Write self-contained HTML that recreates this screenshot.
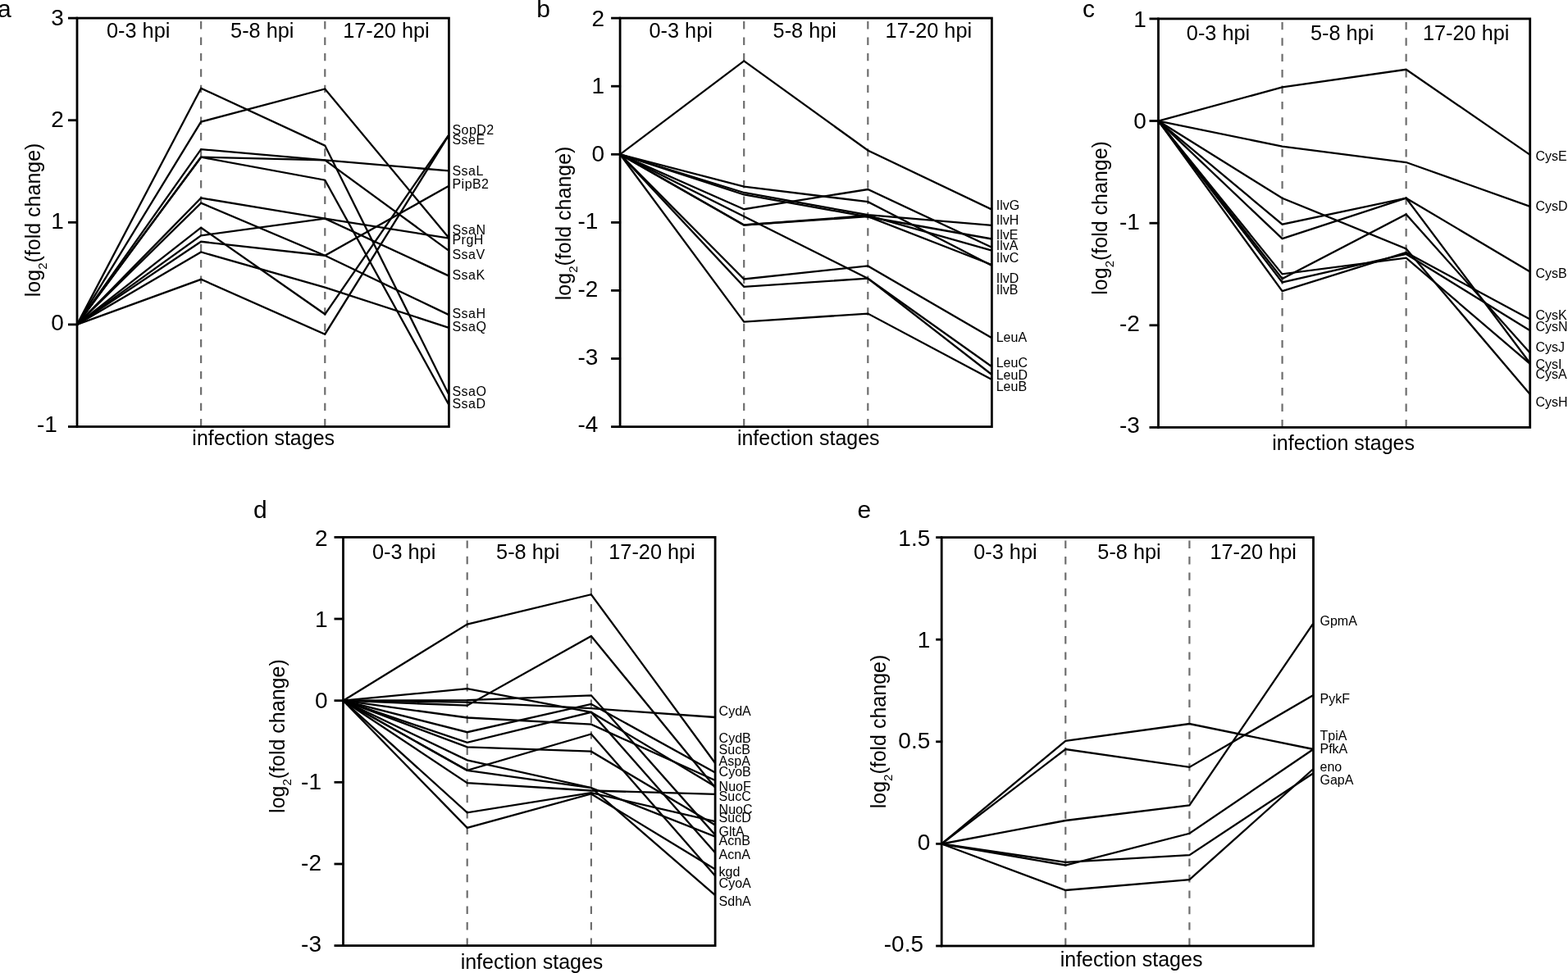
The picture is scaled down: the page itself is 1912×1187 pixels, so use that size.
<!DOCTYPE html>
<html><head><meta charset="utf-8"><title>log2 fold change across infection stages</title>
<style>html,body{margin:0;padding:0;background:#fff;}body{width:1912px;height:1187px;overflow:hidden;}svg{display:block;}text{font-family:"Liberation Sans", Arial, Helvetica, sans-serif;fill:#000;}</style></head><body>
<svg width="1912" height="1187" viewBox="0 0 1912 1187">
<rect x="0" y="0" width="1912" height="1187" fill="#fff"/>
<g id="panel-a">
<text x="-3" y="21" font-size="30">a</text>
<line x1="245.13" y1="26.1" x2="245.13" y2="519.5" stroke="#6e6e6e" stroke-width="2.2" stroke-dasharray="9.4 10"/>
<line x1="396.27" y1="26.1" x2="396.27" y2="519.5" stroke="#6e6e6e" stroke-width="2.2" stroke-dasharray="9.4 10"/>
<text x="168.67" y="46.3" font-size="25.3" text-anchor="middle">0-3 hpi</text>
<text x="319.8" y="46.3" font-size="25.3" text-anchor="middle">5-8 hpi</text>
<text x="470.93" y="46.3" font-size="25.3" text-anchor="middle">17-20 hpi</text>
<polyline points="94,395.9 245.13,107.7 396.27,177.6 547.4,481.5" fill="none" stroke="#000" stroke-width="2.3" stroke-linejoin="miter" stroke-miterlimit="4"/>
<polyline points="94,395.9 245.13,148.6 396.27,108.5 547.4,290.3" fill="none" stroke="#000" stroke-width="2.3" stroke-linejoin="miter" stroke-miterlimit="4"/>
<polyline points="94,395.9 245.13,182.1 396.27,195.3 547.4,305.9" fill="none" stroke="#000" stroke-width="2.3" stroke-linejoin="miter" stroke-miterlimit="4"/>
<polyline points="94,395.9 245.13,191.7 396.27,195.3 547.4,208.4" fill="none" stroke="#000" stroke-width="2.3" stroke-linejoin="miter" stroke-miterlimit="4"/>
<polyline points="94,395.9 245.13,191.7 396.27,219.7 547.4,494" fill="none" stroke="#000" stroke-width="2.3" stroke-linejoin="miter" stroke-miterlimit="4"/>
<polyline points="94,395.9 245.13,241.5 396.27,266.7 547.4,290.6" fill="none" stroke="#000" stroke-width="2.3" stroke-linejoin="miter" stroke-miterlimit="4"/>
<polyline points="94,395.9 245.13,287.3 396.27,266.7 547.4,336.6" fill="none" stroke="#000" stroke-width="2.3" stroke-linejoin="miter" stroke-miterlimit="4"/>
<polyline points="94,395.9 245.13,247.7 396.27,311.7 547.4,384.1" fill="none" stroke="#000" stroke-width="2.3" stroke-linejoin="miter" stroke-miterlimit="4"/>
<polyline points="94,395.9 245.13,294.8 396.27,311.7 547.4,226.8" fill="none" stroke="#000" stroke-width="2.3" stroke-linejoin="miter" stroke-miterlimit="4"/>
<polyline points="94,395.9 245.13,307.5 396.27,350.6 547.4,399.8" fill="none" stroke="#000" stroke-width="2.3" stroke-linejoin="miter" stroke-miterlimit="4"/>
<polyline points="94,395.9 245.13,277.7 396.27,383.3 547.4,164.3" fill="none" stroke="#000" stroke-width="2.3" stroke-linejoin="miter" stroke-miterlimit="4"/>
<polyline points="94,395.9 245.13,340.8 396.27,407.7 547.4,164.6" fill="none" stroke="#000" stroke-width="2.3" stroke-linejoin="miter" stroke-miterlimit="4"/>
<rect x="94" y="22.1" width="453.4" height="498.4" fill="none" stroke="#000" stroke-width="2.8"/>
<line x1="83" y1="22.1" x2="95" y2="22.1" stroke="#000" stroke-width="2.8"/>
<text x="77.9" y="31.3" font-size="28" text-anchor="end">3</text>
<line x1="83" y1="146.7" x2="95" y2="146.7" stroke="#000" stroke-width="2.8"/>
<text x="77.9" y="155.1" font-size="28" text-anchor="end">2</text>
<line x1="83" y1="271.3" x2="95" y2="271.3" stroke="#000" stroke-width="2.8"/>
<text x="77.9" y="278.9" font-size="28" text-anchor="end">1</text>
<line x1="83" y1="395.9" x2="95" y2="395.9" stroke="#000" stroke-width="2.8"/>
<text x="77.9" y="402.7" font-size="28" text-anchor="end">0</text>
<line x1="83" y1="520.5" x2="95" y2="520.5" stroke="#000" stroke-width="2.8"/>
<text x="69.9" y="526.5" font-size="28" text-anchor="end">-1</text>
<text x="321.2" y="543" font-size="25" text-anchor="middle">infection stages</text>
<text transform="translate(48.6 268.4) rotate(-90)" x="0" y="0" font-size="25" text-anchor="middle">log<tspan font-size="15" dy="8">2</tspan><tspan dy="-8">(fold change)</tspan></text>
<text x="551.5" y="163.7" font-size="16" letter-spacing="0.45">SopD2</text>
<text x="551.5" y="175.5" font-size="16" letter-spacing="0.45">SseE</text>
<text x="551.5" y="214.3" font-size="16" letter-spacing="0.45">SsaL</text>
<text x="551.5" y="230.3" font-size="16" letter-spacing="0.45">PipB2</text>
<text x="551.5" y="286" font-size="16" letter-spacing="0.45">SsaN</text>
<text x="551.5" y="298.2" font-size="16" letter-spacing="0.45">PrgH</text>
<text x="551.5" y="316.3" font-size="16" letter-spacing="0.45">SsaV</text>
<text x="551.5" y="341.2" font-size="16" letter-spacing="0.45">SsaK</text>
<text x="551.5" y="388.1" font-size="16" letter-spacing="0.45">SsaH</text>
<text x="551.5" y="403.9" font-size="16" letter-spacing="0.45">SsaQ</text>
<text x="551.5" y="483.1" font-size="16" letter-spacing="0.45">SsaO</text>
<text x="551.5" y="497.7" font-size="16" letter-spacing="0.45">SsaD</text>
</g>
<g id="panel-b">
<text x="654.3" y="21" font-size="30">b</text>
<line x1="907.2" y1="26.1" x2="907.2" y2="519.6" stroke="#6e6e6e" stroke-width="2.2" stroke-dasharray="9.4 10"/>
<line x1="1058.3" y1="26.1" x2="1058.3" y2="519.6" stroke="#6e6e6e" stroke-width="2.2" stroke-dasharray="9.4 10"/>
<text x="830.15" y="46.3" font-size="25.3" text-anchor="middle">0-3 hpi</text>
<text x="981.25" y="46.3" font-size="25.3" text-anchor="middle">5-8 hpi</text>
<text x="1132.35" y="46.3" font-size="25.3" text-anchor="middle">17-20 hpi</text>
<polyline points="756.1,188.3 907.2,74.4 1058.3,183.5 1209.4,255.6" fill="none" stroke="#000" stroke-width="2.3" stroke-linejoin="miter" stroke-miterlimit="4"/>
<polyline points="756.1,188.3 907.2,264 1058.3,339.7 1209.4,447.3" fill="none" stroke="#000" stroke-width="2.3" stroke-linejoin="miter" stroke-miterlimit="4"/>
<polyline points="756.1,188.3 907.2,349.8 1058.3,339.7 1209.4,457" fill="none" stroke="#000" stroke-width="2.3" stroke-linejoin="miter" stroke-miterlimit="4"/>
<polyline points="756.1,188.3 907.2,340.5 1058.3,324.4 1209.4,412.3" fill="none" stroke="#000" stroke-width="2.3" stroke-linejoin="miter" stroke-miterlimit="4"/>
<polyline points="756.1,188.3 907.2,392.6 1058.3,382.6 1209.4,463" fill="none" stroke="#000" stroke-width="2.3" stroke-linejoin="miter" stroke-miterlimit="4"/>
<polyline points="756.1,188.3 907.2,227.6 1058.3,246.2 1209.4,324" fill="none" stroke="#000" stroke-width="2.3" stroke-linejoin="miter" stroke-miterlimit="4"/>
<polyline points="756.1,188.3 907.2,255.2 1058.3,231 1209.4,301.8" fill="none" stroke="#000" stroke-width="2.3" stroke-linejoin="miter" stroke-miterlimit="4"/>
<polyline points="756.1,188.3 907.2,235 1058.3,262.2 1209.4,274.8" fill="none" stroke="#000" stroke-width="2.3" stroke-linejoin="miter" stroke-miterlimit="4"/>
<polyline points="756.1,188.3 907.2,237.5 1058.3,264.5 1209.4,291.5" fill="none" stroke="#000" stroke-width="2.3" stroke-linejoin="miter" stroke-miterlimit="4"/>
<polyline points="756.1,188.3 907.2,274.5 1058.3,263 1209.4,305.6" fill="none" stroke="#000" stroke-width="2.3" stroke-linejoin="miter" stroke-miterlimit="4"/>
<polyline points="756.1,188.3 907.2,274.5 1058.3,264.2 1209.4,323" fill="none" stroke="#000" stroke-width="2.3" stroke-linejoin="miter" stroke-miterlimit="4"/>
<rect x="756.1" y="22.1" width="453.3" height="498.5" fill="none" stroke="#000" stroke-width="2.8"/>
<line x1="745.1" y1="22.1" x2="757.1" y2="22.1" stroke="#000" stroke-width="2.8"/>
<text x="737" y="31.5" font-size="28" text-anchor="end">2</text>
<line x1="745.1" y1="105.2" x2="757.1" y2="105.2" stroke="#000" stroke-width="2.8"/>
<text x="737" y="114.15" font-size="28" text-anchor="end">1</text>
<line x1="745.1" y1="188.3" x2="757.1" y2="188.3" stroke="#000" stroke-width="2.8"/>
<text x="737" y="196.8" font-size="28" text-anchor="end">0</text>
<line x1="745.1" y1="271.4" x2="757.1" y2="271.4" stroke="#000" stroke-width="2.8"/>
<text x="729.3" y="279.45" font-size="28" text-anchor="end">-1</text>
<line x1="745.1" y1="354.4" x2="757.1" y2="354.4" stroke="#000" stroke-width="2.8"/>
<text x="729.3" y="362.1" font-size="28" text-anchor="end">-2</text>
<line x1="745.1" y1="437.5" x2="757.1" y2="437.5" stroke="#000" stroke-width="2.8"/>
<text x="729.3" y="444.75" font-size="28" text-anchor="end">-3</text>
<line x1="745.1" y1="520.6" x2="757.1" y2="520.6" stroke="#000" stroke-width="2.8"/>
<text x="729.3" y="527.4" font-size="28" text-anchor="end">-4</text>
<text x="985.75" y="543" font-size="25" text-anchor="middle">infection stages</text>
<text transform="translate(695.6 272.4) rotate(-90)" x="0" y="0" font-size="25" text-anchor="middle">log<tspan font-size="15" dy="8">2</tspan><tspan dy="-8">(fold change)</tspan></text>
<text x="1214.7" y="256.3" font-size="16">IlvG</text>
<text x="1214.7" y="274.3" font-size="16">IlvH</text>
<text x="1214.7" y="291.5" font-size="16">IlvE</text>
<text x="1214.7" y="305.3" font-size="16">IlvA</text>
<text x="1214.7" y="319.5" font-size="16">IlvC</text>
<text x="1214.7" y="345.3" font-size="16">IlvD</text>
<text x="1214.7" y="358.8" font-size="16">IlvB</text>
<text x="1214.7" y="417" font-size="16">LeuA</text>
<text x="1214.7" y="448.4" font-size="16">LeuC</text>
<text x="1214.7" y="462.6" font-size="16">LeuD</text>
<text x="1214.7" y="477.1" font-size="16">LeuB</text>
</g>
<g id="panel-c">
<text x="1320" y="21" font-size="30">c</text>
<line x1="1563.57" y1="26.9" x2="1563.57" y2="520.4" stroke="#6e6e6e" stroke-width="2.2" stroke-dasharray="9.4 10"/>
<line x1="1714.63" y1="26.9" x2="1714.63" y2="520.4" stroke="#6e6e6e" stroke-width="2.2" stroke-dasharray="9.4 10"/>
<text x="1485.53" y="49.2" font-size="25.3" text-anchor="middle">0-3 hpi</text>
<text x="1636.6" y="49.2" font-size="25.3" text-anchor="middle">5-8 hpi</text>
<text x="1787.67" y="49.2" font-size="25.3" text-anchor="middle">17-20 hpi</text>
<polyline points="1412.5,147.6 1563.57,106.4 1714.63,84.8 1865.7,188.9" fill="none" stroke="#000" stroke-width="2.3" stroke-linejoin="miter" stroke-miterlimit="4"/>
<polyline points="1412.5,147.6 1563.57,178.6 1714.63,198 1865.7,251.9" fill="none" stroke="#000" stroke-width="2.3" stroke-linejoin="miter" stroke-miterlimit="4"/>
<polyline points="1412.5,147.6 1563.57,241.7 1714.63,303.4 1865.7,481" fill="none" stroke="#000" stroke-width="2.3" stroke-linejoin="miter" stroke-miterlimit="4"/>
<polyline points="1412.5,147.6 1563.57,273.7 1714.63,241.7 1865.7,331.4" fill="none" stroke="#000" stroke-width="2.3" stroke-linejoin="miter" stroke-miterlimit="4"/>
<polyline points="1412.5,147.6 1563.57,291.2 1714.63,241.7 1865.7,443" fill="none" stroke="#000" stroke-width="2.3" stroke-linejoin="miter" stroke-miterlimit="4"/>
<polyline points="1412.5,147.6 1563.57,340 1714.63,261.5 1865.7,430.5" fill="none" stroke="#000" stroke-width="2.3" stroke-linejoin="miter" stroke-miterlimit="4"/>
<polyline points="1412.5,147.6 1563.57,334.4 1714.63,314.7 1865.7,443.9" fill="none" stroke="#000" stroke-width="2.3" stroke-linejoin="miter" stroke-miterlimit="4"/>
<polyline points="1412.5,147.6 1563.57,344.4 1714.63,310 1865.7,403.3" fill="none" stroke="#000" stroke-width="2.3" stroke-linejoin="miter" stroke-miterlimit="4"/>
<polyline points="1412.5,147.6 1563.57,355.2 1714.63,308 1865.7,389.5" fill="none" stroke="#000" stroke-width="2.3" stroke-linejoin="miter" stroke-miterlimit="4"/>
<rect x="1412.5" y="22.9" width="453.2" height="498.5" fill="none" stroke="#000" stroke-width="2.8"/>
<line x1="1401.5" y1="22.9" x2="1413.5" y2="22.9" stroke="#000" stroke-width="2.8"/>
<text x="1397.8" y="32.75" font-size="28" text-anchor="end">1</text>
<line x1="1401.5" y1="147.5" x2="1413.5" y2="147.5" stroke="#000" stroke-width="2.8"/>
<text x="1397.8" y="156.6" font-size="28" text-anchor="end">0</text>
<line x1="1401.5" y1="272.2" x2="1413.5" y2="272.2" stroke="#000" stroke-width="2.8"/>
<text x="1389.9" y="280.45" font-size="28" text-anchor="end">-1</text>
<line x1="1401.5" y1="396.8" x2="1413.5" y2="396.8" stroke="#000" stroke-width="2.8"/>
<text x="1389.9" y="404.3" font-size="28" text-anchor="end">-2</text>
<line x1="1401.5" y1="521.4" x2="1413.5" y2="521.4" stroke="#000" stroke-width="2.8"/>
<text x="1389.9" y="528.15" font-size="28" text-anchor="end">-3</text>
<text x="1638.1" y="549.3" font-size="25" text-anchor="middle">infection stages</text>
<text transform="translate(1349.6 265.9) rotate(-90)" x="0" y="0" font-size="25" text-anchor="middle">log<tspan font-size="15" dy="8">2</tspan><tspan dy="-8">(fold change)</tspan></text>
<text x="1872.4" y="195.6" font-size="16">CysE</text>
<text x="1872.4" y="257.1" font-size="16">CysD</text>
<text x="1872.4" y="338.8" font-size="16">CysB</text>
<text x="1872.4" y="389.6" font-size="16">CysK</text>
<text x="1872.4" y="404.4" font-size="16">CysN</text>
<text x="1872.4" y="428.5" font-size="16">CysJ</text>
<text x="1872.4" y="449.7" font-size="16">CysI</text>
<text x="1872.4" y="461.7" font-size="16">CysA</text>
<text x="1872.4" y="495.9" font-size="16">CysH</text>
</g>
<g id="panel-d">
<text x="309" y="632" font-size="30">d</text>
<line x1="569.7" y1="659.4" x2="569.7" y2="1152.6" stroke="#6e6e6e" stroke-width="2.2" stroke-dasharray="9.4 10"/>
<line x1="720.9" y1="659.4" x2="720.9" y2="1152.6" stroke="#6e6e6e" stroke-width="2.2" stroke-dasharray="9.4 10"/>
<text x="492.6" y="681.8" font-size="25.3" text-anchor="middle">0-3 hpi</text>
<text x="643.8" y="681.8" font-size="25.3" text-anchor="middle">5-8 hpi</text>
<text x="795" y="681.8" font-size="25.3" text-anchor="middle">17-20 hpi</text>
<polyline points="418.5,854.7 569.7,761.6 720.9,725.2 872.1,931" fill="none" stroke="#000" stroke-width="2.3" stroke-linejoin="miter" stroke-miterlimit="4"/>
<polyline points="418.5,854.7 569.7,860.7 720.9,775.9 872.1,960.8" fill="none" stroke="#000" stroke-width="2.3" stroke-linejoin="miter" stroke-miterlimit="4"/>
<polyline points="418.5,854.7 569.7,856.6 720.9,864.2 872.1,875" fill="none" stroke="#000" stroke-width="2.3" stroke-linejoin="miter" stroke-miterlimit="4"/>
<polyline points="418.5,854.7 569.7,854.2 720.9,848.3 872.1,1018.6" fill="none" stroke="#000" stroke-width="2.3" stroke-linejoin="miter" stroke-miterlimit="4"/>
<polyline points="418.5,854.7 569.7,893.2 720.9,858.9 872.1,942.4" fill="none" stroke="#000" stroke-width="2.3" stroke-linejoin="miter" stroke-miterlimit="4"/>
<polyline points="418.5,854.7 569.7,875.5 720.9,883.7 872.1,952" fill="none" stroke="#000" stroke-width="2.3" stroke-linejoin="miter" stroke-miterlimit="4"/>
<polyline points="418.5,854.7 569.7,911.4 720.9,916.7 872.1,1006.5" fill="none" stroke="#000" stroke-width="2.3" stroke-linejoin="miter" stroke-miterlimit="4"/>
<polyline points="418.5,854.7 569.7,840.1 720.9,868.9 872.1,959.5" fill="none" stroke="#000" stroke-width="2.3" stroke-linejoin="miter" stroke-miterlimit="4"/>
<polyline points="418.5,854.7 569.7,905.9 720.9,868.9 872.1,1040.3" fill="none" stroke="#000" stroke-width="2.3" stroke-linejoin="miter" stroke-miterlimit="4"/>
<polyline points="418.5,854.7 569.7,939.8 720.9,895.5 872.1,1068.4" fill="none" stroke="#000" stroke-width="2.3" stroke-linejoin="miter" stroke-miterlimit="4"/>
<polyline points="418.5,854.7 569.7,927.4 720.9,961 872.1,1092.2" fill="none" stroke="#000" stroke-width="2.3" stroke-linejoin="miter" stroke-miterlimit="4"/>
<polyline points="418.5,854.7 569.7,939.8 720.9,961 872.1,1020.6" fill="none" stroke="#000" stroke-width="2.3" stroke-linejoin="miter" stroke-miterlimit="4"/>
<polyline points="418.5,854.7 569.7,955.1 720.9,964.5 872.1,968.8" fill="none" stroke="#000" stroke-width="2.3" stroke-linejoin="miter" stroke-miterlimit="4"/>
<polyline points="418.5,854.7 569.7,991.3 720.9,967.2 872.1,1002.1" fill="none" stroke="#000" stroke-width="2.3" stroke-linejoin="miter" stroke-miterlimit="4"/>
<polyline points="418.5,854.7 569.7,1009.9 720.9,968.5 872.1,1060.5" fill="none" stroke="#000" stroke-width="2.3" stroke-linejoin="miter" stroke-miterlimit="4"/>
<rect x="418.5" y="655.4" width="453.6" height="498.2" fill="none" stroke="#000" stroke-width="2.8"/>
<line x1="407.5" y1="655.4" x2="419.5" y2="655.4" stroke="#000" stroke-width="2.8"/>
<text x="399.6" y="665.6" font-size="28" text-anchor="end">2</text>
<line x1="407.5" y1="755" x2="419.5" y2="755" stroke="#000" stroke-width="2.8"/>
<text x="399.6" y="764.74" font-size="28" text-anchor="end">1</text>
<line x1="407.5" y1="854.7" x2="419.5" y2="854.7" stroke="#000" stroke-width="2.8"/>
<text x="399.6" y="863.88" font-size="28" text-anchor="end">0</text>
<line x1="407.5" y1="954.3" x2="419.5" y2="954.3" stroke="#000" stroke-width="2.8"/>
<text x="392" y="963.02" font-size="28" text-anchor="end">-1</text>
<line x1="407.5" y1="1054" x2="419.5" y2="1054" stroke="#000" stroke-width="2.8"/>
<text x="392" y="1062.16" font-size="28" text-anchor="end">-2</text>
<line x1="407.5" y1="1153.6" x2="419.5" y2="1153.6" stroke="#000" stroke-width="2.8"/>
<text x="392" y="1161.3" font-size="28" text-anchor="end">-3</text>
<text x="648.5" y="1181.6" font-size="25" text-anchor="middle">infection stages</text>
<text transform="translate(346.6 898.1) rotate(-90)" x="0" y="0" font-size="25" text-anchor="middle">log<tspan font-size="15" dy="8">2</tspan><tspan dy="-8">(fold change)</tspan></text>
<text x="876.6" y="873.3" font-size="16">CydA</text>
<text x="876.6" y="906.3" font-size="16">CydB</text>
<text x="876.6" y="919.6" font-size="16">SucB</text>
<text x="876.6" y="933.6" font-size="16">AspA</text>
<text x="876.6" y="947" font-size="16">CyoB</text>
<text x="876.6" y="964.6" font-size="16">NuoF</text>
<text x="876.6" y="976.8" font-size="16">SucC</text>
<text x="876.6" y="992.6" font-size="16">NuoC</text>
<text x="876.6" y="1002.7" font-size="16">SucD</text>
<text x="876.6" y="1019.8" font-size="16">GltA</text>
<text x="876.6" y="1030.5" font-size="16">AcnB</text>
<text x="876.6" y="1047.6" font-size="16">AcnA</text>
<text x="876.6" y="1068.5" font-size="16">kgd</text>
<text x="876.6" y="1083" font-size="16">CyoA</text>
<text x="876.6" y="1105.1" font-size="16">SdhA</text>
</g>
<g id="panel-e">
<text x="1045.5" y="632.4" font-size="30">e</text>
<line x1="1299.3" y1="659.6" x2="1299.3" y2="1153" stroke="#6e6e6e" stroke-width="2.2" stroke-dasharray="9.4 10"/>
<line x1="1450.4" y1="659.6" x2="1450.4" y2="1153" stroke="#6e6e6e" stroke-width="2.2" stroke-dasharray="9.4 10"/>
<text x="1225.95" y="681.8" font-size="25.3" text-anchor="middle">0-3 hpi</text>
<text x="1377.05" y="681.8" font-size="25.3" text-anchor="middle">5-8 hpi</text>
<text x="1528.15" y="681.8" font-size="25.3" text-anchor="middle">17-20 hpi</text>
<polyline points="1148.2,1029.5 1299.3,903.9 1450.4,883 1601.5,914" fill="none" stroke="#000" stroke-width="2.3" stroke-linejoin="miter" stroke-miterlimit="4"/>
<polyline points="1148.2,1029.5 1299.3,914 1450.4,935.9 1601.5,848" fill="none" stroke="#000" stroke-width="2.3" stroke-linejoin="miter" stroke-miterlimit="4"/>
<polyline points="1148.2,1029.5 1299.3,1001 1450.4,982.4 1601.5,760.3" fill="none" stroke="#000" stroke-width="2.3" stroke-linejoin="miter" stroke-miterlimit="4"/>
<polyline points="1148.2,1029.5 1299.3,1055.5 1450.4,1016.8 1601.5,914" fill="none" stroke="#000" stroke-width="2.3" stroke-linejoin="miter" stroke-miterlimit="4"/>
<polyline points="1148.2,1029.5 1299.3,1051.8 1450.4,1043.1 1601.5,943.2" fill="none" stroke="#000" stroke-width="2.3" stroke-linejoin="miter" stroke-miterlimit="4"/>
<polyline points="1148.2,1029.5 1299.3,1086 1450.4,1073.1 1601.5,938" fill="none" stroke="#000" stroke-width="2.3" stroke-linejoin="miter" stroke-miterlimit="4"/>
<rect x="1148.2" y="655.6" width="453.3" height="498.4" fill="none" stroke="#000" stroke-width="2.8"/>
<line x1="1141.2" y1="655.6" x2="1149.2" y2="655.6" stroke="#000" stroke-width="2.8"/>
<text x="1134.3" y="665.6" font-size="28" text-anchor="end">1.5</text>
<line x1="1141.2" y1="780.2" x2="1149.2" y2="780.2" stroke="#000" stroke-width="2.8"/>
<text x="1134.3" y="789.52" font-size="28" text-anchor="end">1</text>
<line x1="1141.2" y1="904.8" x2="1149.2" y2="904.8" stroke="#000" stroke-width="2.8"/>
<text x="1134.3" y="913.45" font-size="28" text-anchor="end">0.5</text>
<line x1="1141.2" y1="1029.4" x2="1149.2" y2="1029.4" stroke="#000" stroke-width="2.8"/>
<text x="1134.3" y="1037.38" font-size="28" text-anchor="end">0</text>
<line x1="1141.2" y1="1154" x2="1149.2" y2="1154" stroke="#000" stroke-width="2.8"/>
<text x="1126" y="1161.3" font-size="28" text-anchor="end">-0.5</text>
<text x="1379.55" y="1178.9" font-size="25" text-anchor="middle">infection stages</text>
<text transform="translate(1079.6 892.5) rotate(-90)" x="0" y="0" font-size="25" text-anchor="middle">log<tspan font-size="15" dy="8">2</tspan><tspan dy="-8">(fold change)</tspan></text>
<text x="1609.5" y="762.7" font-size="16">GpmA</text>
<text x="1609.5" y="857.7" font-size="16">PykF</text>
<text x="1609.5" y="903.4" font-size="16">TpiA</text>
<text x="1609.5" y="919.3" font-size="16">PfkA</text>
<text x="1609.5" y="941.2" font-size="16">eno</text>
<text x="1609.5" y="956.7" font-size="16">GapA</text>
</g>
</svg></body></html>
